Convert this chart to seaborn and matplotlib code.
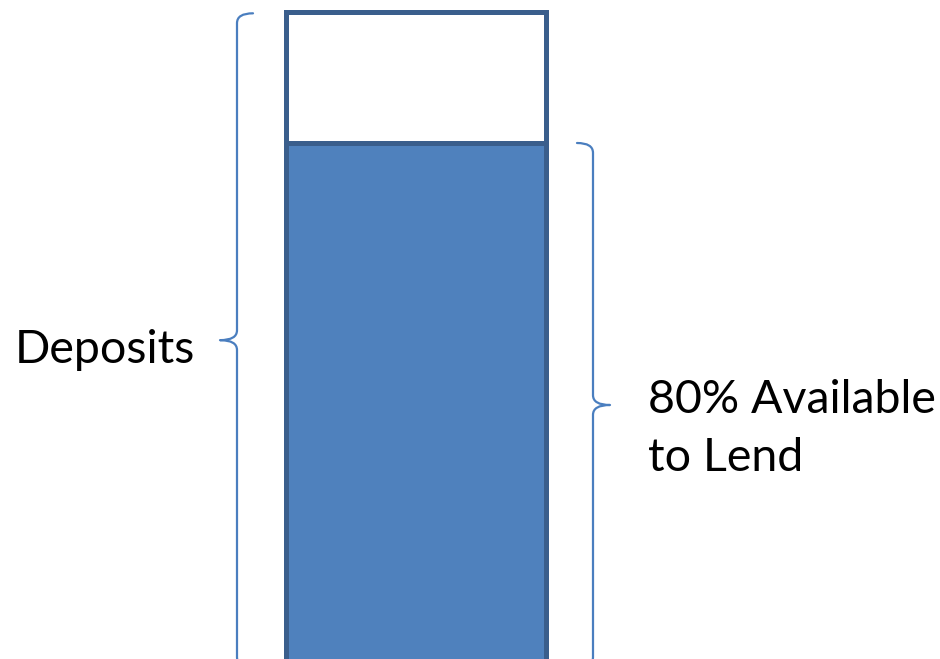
import matplotlib
matplotlib.use("Agg")
import matplotlib.pyplot as plt
import seaborn as sns
import pandas as pd
from matplotlib.path import Path
from matplotlib.patches import PathPatch

categories = ["Reserves"]
deposits = [100]
available = [80]
labels = ["Deposits", "80% Available\nto Lend"]

sns.set_theme(style="white")
plt.rcParams['font.family'] = ['Lato', 'DejaVu Sans']

fig = plt.figure(figsize=(9.4, 6.59), dpi=100)
ax = fig.add_axes([0, 0, 1, 1])

df_dep = pd.DataFrame({"cat": categories, "val": deposits})
df_av = pd.DataFrame({"cat": categories, "val": available})

edge = "#3A5E8C"
sns.barplot(data=df_dep, x="cat", y="val", color="white", edgecolor=edge,
            linewidth=3.6, width=0.8, ax=ax, saturation=1)
sns.barplot(data=df_av, x="cat", y="val", color="#4F81BD", edgecolor=edge,
            linewidth=3.6, width=0.8, ax=ax, saturation=1)

# pixel mapping: bar center at 416px, width 260px
unit = 260 / 0.8
xl = -416 / unit
ax.set_xlim(xl, xl + 940 / unit)
ppu = 131 / 20.0
ax.set_ylim((667 - 659) / ppu, 100 + 12 / ppu)
ax.axis("off")

def px(p):
    return xl + p / unit

def brace(xpix, top, bottom, direction, color="#4A7EBF"):
    # direction: -1 tip points left, +1 tip points right
    mid = (top + bottom) / 2
    arm = 16 / unit
    tip = 17 / unit
    cy = 1.5
    x = px(xpix)
    d = direction
    verts = [
        (x - d * arm, top), (x, top), (x, top - cy),
        (x, mid + cy), (x, mid), (x + d * tip, mid),
        (x, mid), (x, mid - cy),
        (x, bottom + cy), (x, bottom), (x - d * arm, bottom),
    ]
    codes = [Path.MOVETO, Path.CURVE3, Path.CURVE3,
             Path.LINETO, Path.CURVE3, Path.CURVE3,
             Path.CURVE3, Path.CURVE3,
             Path.LINETO, Path.CURVE3, Path.CURVE3]
    ax.add_patch(PathPatch(Path(verts, codes), fill=False, edgecolor=color,
                           linewidth=1.6, capstyle="round", joinstyle="round"))

brace(237, deposits[0] - 0.2, 0, -1)
brace(593, available[0], 0, +1)

ax.text(px(15), (667 - 350) / ppu, labels[0], fontsize=33.5, color="black",
        ha="left", va="center")
ax.text(px(648), (667 - 429) / ppu, labels[1], fontsize=33.5, color="black",
        ha="left", va="center", linespacing=1.46)

fig.savefig("out.png", dpi=100)
